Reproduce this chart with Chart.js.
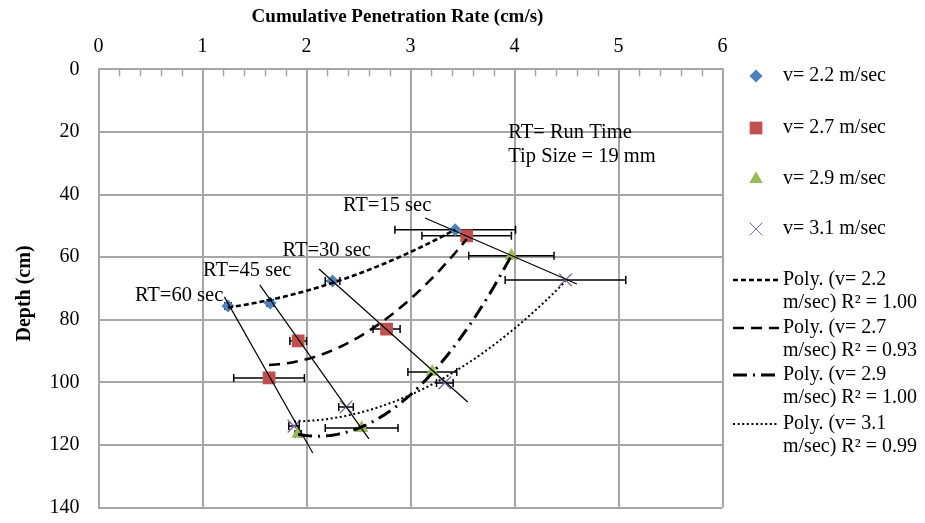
<!DOCTYPE html>
<html>
<head>
<meta charset="utf-8">
<script src="https://cdn.jsdelivr.net/npm/chart.js@4.4.1/dist/chart.umd.min.js"></script>
<style>
  html, body { margin: 0; padding: 0; background: #ffffff; }
  canvas { display: block; }
</style>
</head>
<body>
<canvas id="chart" width="925" height="523"></canvas>
<script>
// Cumulative penetration rate (cm/s) and depth (cm) at RT = 15, 30, 45, 60 sec
const rate22  = [3.43, 2.25, 1.65, 1.245];
const depth22 = [51.3, 67.6, 74.7, 75.6];
const err22   = [0.58, 0.07, 0.03, 0.03];

const rate27  = [3.54, 2.77, 1.92, 1.64];
const depth27 = [53.2, 83.0, 86.8, 98.6];
const err27   = [0.43, 0.13, 0.08, 0.34];

const rate29  = [3.97, 3.21, 2.53, 1.92];
const depth29 = [59.6, 96.7, 114.6, 116.5];
const err29   = [0.41, 0.235, 0.35, 0.03];

const rate31  = [4.49, 3.33, 2.38, 1.88];
const depth31 = [67.3, 100.2, 107.9, 114.0];
const err31   = [0.58, 0.08, 0.07, 0.05];

const seriesNames = ['v= 2.2 m/sec', 'v= 2.7 m/sec', 'v= 2.9 m/sec', 'v= 3.1 m/sec'];
const r2Values    = ['1.00', '0.93', '1.00', '0.99'];

const xTicks = [0, 1, 2, 3, 4, 5, 6];
const yTicks = [0, 20, 40, 60, 80, 100, 120, 140];

// Constant run-time lines (rate, depth end points) and their labels
const rtLabels  = ['RT=15 sec', 'RT=30 sec', 'RT=45 sec', 'RT=60 sec'];
const rtFrom    = [[3.14, 47.5], [2.12, 63.8], [1.55, 68.9], [1.21, 72.7]];
const rtTo      = [[4.60, 68.6], [3.55, 106.3], [2.60, 118.1], [2.06, 122.6]];
const rtLabelAt = [[2.35, 43.4], [1.77, 57.8], [1.005, 64.2], [0.35, 72.4]];

const noteLines = ['RT= Run Time', 'Tip Size = 19 mm'];
const noteAt    = [3.94, 20.3];

const xTitle = 'Cumulative Penetration Rate (cm/s)';
const yTitle = 'Depth (cm)';

const rates  = [rate22, rate27, rate29, rate31];
const depths = [depth22, depth27, depth29, depth31];
const errs   = [err22, err27, err29, err31];

const colors = ['#4F81BD', '#C0504D', '#9BBB59', '#8064A2'];
const markerStyles = [
  { pointStyle: 'rectRot', radius: 6.5 },
  { pointStyle: 'rect', radius: 9 },
  { pointStyle: 'triangle', radius: 7.8 },
  { pointStyle: 'crossRot', radius: 9 }
];
const trendDash  = [[5, 3], [11, 7], [14, 6, 2, 6], [2, 2.6]];
const trendWidth = [2.6, 2.6, 3, 2];

const SERIF = '"Liberation Serif", "Times New Roman", serif';

// Order-2 polynomial trendline (least squares of depth on rate)
function polyTrend(xs, ys) {
  const n = xs.length;
  let s = [0, 0, 0, 0, 0], t = [0, 0, 0];
  for (let i = 0; i < n; i++) {
    const x = xs[i], y = ys[i];
    for (let k = 0; k < 5; k++) s[k] += Math.pow(x, k);
    for (let k = 0; k < 3; k++) t[k] += y * Math.pow(x, k);
  }
  const A = [[s[0], s[1], s[2], t[0]], [s[1], s[2], s[3], t[1]], [s[2], s[3], s[4], t[2]]];
  for (let c = 0; c < 3; c++) {
    let p = c;
    for (let r = c + 1; r < 3; r++) if (Math.abs(A[r][c]) > Math.abs(A[p][c])) p = r;
    [A[c], A[p]] = [A[p], A[c]];
    for (let r = 0; r < 3; r++) {
      if (r === c) continue;
      const f = A[r][c] / A[c][c];
      for (let k = c; k < 4; k++) A[r][k] -= f * A[c][k];
    }
  }
  const a0 = A[0][3] / A[0][0], a1 = A[1][3] / A[1][1], a2 = A[2][3] / A[2][2];
  const lo = Math.min(...xs), hi = Math.max(...xs);
  const pts = [];
  const steps = 60;
  for (let i = 0; i <= steps; i++) {
    const x = lo + (hi - lo) * i / steps;
    pts.push({ x: x, y: a0 + a1 * x + a2 * x * x });
  }
  return pts;
}

const datasets = [];
for (let i = 0; i < 4; i++) {
  datasets.push({
    label: seriesNames[i],
    data: rates[i].map((r, j) => ({ x: r, y: depths[i][j] })),
    showLine: false,
    pointStyle: markerStyles[i].pointStyle,
    pointRadius: markerStyles[i].radius,
    pointBackgroundColor: colors[i],
    pointBorderColor: colors[i],
    pointBorderWidth: i === 3 ? 1.3 : 0,
    order: 2
  });
}
for (let i = 0; i < 4; i++) {
  datasets.push({
    label: 'Poly. (' + seriesNames[i] + ')',
    data: polyTrend(rates[i], depths[i]),
    showLine: true,
    borderColor: '#000000',
    borderWidth: trendWidth[i],
    borderDash: trendDash[i],
    pointRadius: 0,
    tension: 0,
    order: 1
  });
}
for (let i = 0; i < 4; i++) {
  datasets.push({
    label: rtLabels[i],
    data: [{ x: rtFrom[i][0], y: rtFrom[i][1] }, { x: rtTo[i][0], y: rtTo[i][1] }],
    showLine: true,
    borderColor: '#000000',
    borderWidth: 1.2,
    pointRadius: 0,
    order: 0
  });
}

function drawMarker(ctx, i, x, y) {
  ctx.save();
  ctx.fillStyle = colors[i];
  ctx.strokeStyle = colors[i];
  Chart.helpers.drawPoint(ctx, {
    pointStyle: markerStyles[i].pointStyle,
    radius: markerStyles[i].radius,
    rotation: 0,
    borderWidth: i === 3 ? 1.3 : 0
  }, x, y);
  ctx.restore();
}

const decor = {
  id: 'decor',
  beforeDatasetsDraw(chart) {
    const ctx = chart.ctx, xs = chart.scales.x, ys = chart.scales.y;
    const top = chart.chartArea.top;
    // minor tick marks along the top axis
    ctx.save();
    ctx.strokeStyle = '#a6a6a6';
    ctx.lineWidth = 1.5;
    for (let k = 1; k < 30; k++) {
      if (k % 5 === 0) continue;
      const px = Math.round(xs.getPixelForValue(k * 0.2)) + 0.5;
      ctx.beginPath();
      ctx.moveTo(px, top);
      ctx.lineTo(px, top + 7);
      ctx.stroke();
    }
    ctx.restore();
    // horizontal error bars
    ctx.save();
    ctx.strokeStyle = '#000000';
    ctx.lineWidth = 1.5;
    for (let i = 0; i < 4; i++) {
      for (let j = 0; j < rates[i].length; j++) {
        const y = ys.getPixelForValue(depths[i][j]);
        const x1 = xs.getPixelForValue(rates[i][j] - errs[i][j]);
        const x2 = xs.getPixelForValue(rates[i][j] + errs[i][j]);
        ctx.beginPath();
        ctx.moveTo(x1, y); ctx.lineTo(x2, y);
        ctx.moveTo(x1, y - 4); ctx.lineTo(x1, y + 4);
        ctx.moveTo(x2, y - 4); ctx.lineTo(x2, y + 4);
        ctx.stroke();
      }
    }
    ctx.restore();
  },
  afterDraw(chart) {
    const ctx = chart.ctx, xs = chart.scales.x, ys = chart.scales.y;
    ctx.save();
    ctx.fillStyle = '#000000';
    // axis titles
    ctx.font = 'bold 19px ' + SERIF;
    ctx.textAlign = 'center';
    ctx.textBaseline = 'middle';
    ctx.fillText(xTitle, 397.5, 17);
    ctx.save();
    ctx.translate(25, 293.5);
    ctx.rotate(-Math.PI / 2);
    ctx.font = 'bold 20px ' + SERIF;
    ctx.fillText(yTitle, 0, 0);
    ctx.restore();
    // run-time labels and note
    ctx.font = '20.5px ' + SERIF;
    ctx.textAlign = 'left';
    for (let i = 0; i < rtLabels.length; i++) {
      ctx.fillText(rtLabels[i], xs.getPixelForValue(rtLabelAt[i][0]), ys.getPixelForValue(rtLabelAt[i][1]));
    }
    ctx.fillText(noteLines[0], xs.getPixelForValue(noteAt[0]), ys.getPixelForValue(noteAt[1]));
    ctx.fillText(noteLines[1], xs.getPixelForValue(noteAt[0]), ys.getPixelForValue(noteAt[1]) + 24);
    // legend
    ctx.font = '20px ' + SERIF;
    const lx = 756, tx = 783;
    const markerRows = [76, 128, 179, 229];
    for (let i = 0; i < 4; i++) {
      drawMarker(ctx, i, lx, markerRows[i]);
      ctx.fillStyle = '#000000';
      ctx.fillText(seriesNames[i], tx, markerRows[i]);
    }
    const trendRows = [280, 328, 375, 424];
    for (let i = 0; i < 4; i++) {
      const y = trendRows[i];
      ctx.save();
      ctx.strokeStyle = '#000000';
      ctx.lineWidth = trendWidth[i];
      ctx.setLineDash(trendDash[i]);
      ctx.beginPath();
      ctx.moveTo(733, y);
      ctx.lineTo(779, y);
      ctx.stroke();
      ctx.restore();
      ctx.fillText('Poly. (' + seriesNames[i].replace(' m/sec', ''), tx, y);
      ctx.fillText('m/sec) R² = ' + r2Values[i], tx, y + 23);
    }
    ctx.restore();
  }
};

new Chart(document.getElementById('chart'), {
  type: 'scatter',
  data: { datasets: datasets },
  options: {
    responsive: false,
    animation: false,
    events: [],
    layout: { padding: { top: 0, left: 0, right: 202.5, bottom: 15.5 } },
    plugins: { legend: { display: false }, tooltip: { enabled: false } },
    scales: {
      x: {
        type: 'linear',
        position: 'top',
        min: 0, max: 6,
        afterBuildTicks: (s) => { s.ticks = xTicks.map(v => ({ value: v })); },
        afterFit: (s) => { s.height = 69.3; s.paddingLeft = 0; s.paddingRight = 0; },
        ticks: { color: '#000000', padding: 11, font: { family: SERIF, size: 20 } },
        grid: { color: '#a6a6a6', lineWidth: 2, drawTicks: false },
        border: { color: '#a6a6a6', width: 2 }
      },
      y: {
        type: 'linear',
        reverse: true,
        min: 0, max: 140,
        afterBuildTicks: (s) => { s.ticks = yTicks.map(v => ({ value: v })); },
        afterFit: (s) => { s.width = 98.5; s.paddingTop = 0; s.paddingBottom = 0; },
        ticks: { color: '#000000', padding: 19, font: { family: SERIF, size: 20 } },
        grid: { color: '#a6a6a6', lineWidth: 2, drawTicks: false },
        border: { color: '#a6a6a6', width: 2 }
      }
    }
  },
  plugins: [decor]
});
</script>
</body>
</html>
